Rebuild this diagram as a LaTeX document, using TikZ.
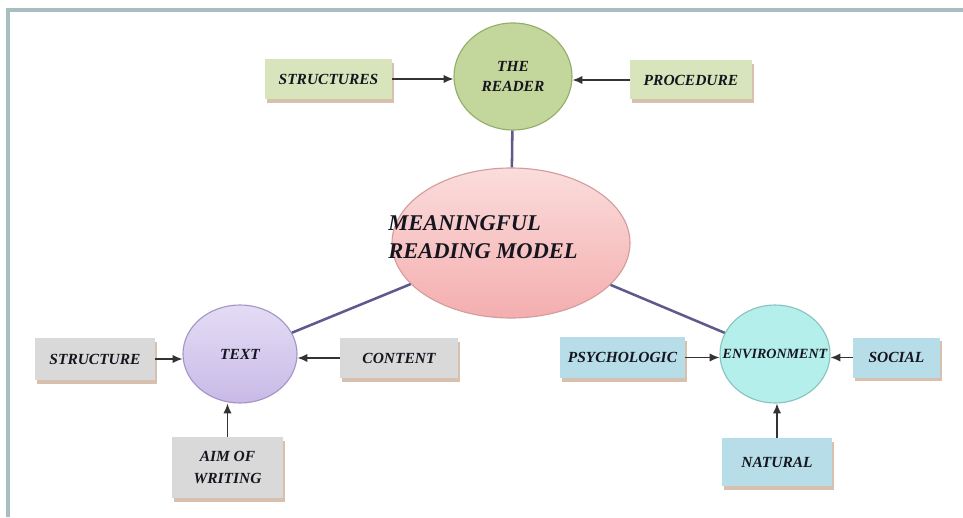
\documentclass[tikz,border=0pt]{standalone}
\usepackage{fontspec}
\setmainfont{Liberation Serif}
\usetikzlibrary{arrows.meta, shapes.geometric, shadows}
\definecolor{framegray}{HTML}{A9BCC0}
\definecolor{readerfill}{HTML}{C3D69B}
\definecolor{readerdraw}{HTML}{93AE68}
\definecolor{greenbox}{HTML}{D8E4BC}
\definecolor{graybox}{HTML}{D9D9D9}
\definecolor{bluebox}{HTML}{B7DEE8}
\definecolor{texttop}{HTML}{E4DCF5}
\definecolor{textbottom}{HTML}{C8BAE6}
\definecolor{textdraw}{HTML}{A495C8}
\definecolor{envfill}{HTML}{B5EFEB}
\definecolor{envdraw}{HTML}{88C4BF}
\definecolor{mrmtop}{HTML}{FBDCDC}
\definecolor{mrmbottom}{HTML}{F4AEAE}
\definecolor{mrmdraw}{HTML}{D59C9C}
\definecolor{linkcolor}{HTML}{5E5A8E}
\definecolor{shadowtan}{HTML}{D8C0AE}
\definecolor{inkcolor}{HTML}{15151F}
\tikzset{every picture/.style={font issue=\bfseries\itshape},
         font issue/.style={execute at begin picture={#1\selectfont}},
         factor/.style={fill=#1, minimum height=1cm, inner sep=2pt, align=center, text=inkcolor,
                        font=\fontsize{11}{15.5}\selectfont\bfseries\itshape,
                        drop shadow={shadow xshift=1.5pt, shadow yshift=-2.5pt, fill=shadowtan, opacity=1}},
         hub/.style={ellipse, inner sep=0pt, align=center, text=inkcolor, line width=0.8pt,
                     font=\fontsize{11}{14}\selectfont\bfseries\itshape},
         feed/.style={-{Latex[length=7pt, width=6pt]}, line width=1.1pt, black!80},
         link/.style={line width=1.8pt, linkcolor}
}
\begin{document}
\begin{tikzpicture}
        \useasboundingbox (0cm, 0cm) rectangle (24.075cm, 12.925cm);
        \fill [white] (0cm, 0cm) rectangle (24.075cm, 12.925cm);
        \draw [framegray, line width=2.2pt] (0.2cm, 0cm) -- (0.2cm, 12.675cm) -- (24.075cm, 12.675cm);

        \node [hub, draw=mrmdraw, top color=mrmtop, bottom color=mrmbottom, minimum width=5.95cm, minimum height=3.75cm] (mrm) at (12.775cm, 6.85cm) {};
        \node [align=left, text=inkcolor, font=\fontsize{16}{20}\selectfont\bfseries\itshape] (mrmlabel) at (12.075cm, 6.99cm) {MEANINGFUL\\READING MODEL};

        \node [hub, draw=readerdraw, fill=readerfill, minimum width=2.95cm, minimum height=2.675cm] (reader) at (12.825cm, 11.0125cm) {THE\\READER};
        \node [factor=greenbox, minimum width=3.175cm] (structures) at (8.2125cm, 10.95cm) {STRUCTURES};
        \node [factor=greenbox, minimum width=3.05cm, minimum height=0.975cm] (procedure) at (17.275cm, 10.925cm) {PROCEDURE};

        \node [hub, draw=textdraw, top color=texttop, bottom color=textbottom, minimum width=2.85cm, minimum height=2.45cm] (text) at (6cm, 4.075cm) {TEXT};
        \node [factor=graybox, minimum width=3cm, minimum height=1.05cm] (structure) at (2.375cm, 3.95cm) {STRUCTURE};
        \node [factor=graybox, minimum width=2.95cm] (content) at (9.975cm, 3.975cm) {CONTENT};
        \node [factor=graybox, minimum width=2.775cm, minimum height=1.525cm] (aim) at (5.6875cm, 1.2375cm) {AIM OF\\WRITING};

        \node [hub, draw=envdraw, fill=envfill, minimum width=2.75cm, minimum height=2.45cm, font=\fontsize{10}{12}\selectfont\bfseries\itshape] (env) at (19.375cm, 4.075cm) {\makebox[0pt]{ENVIRONMENT}};
        \node [factor=bluebox, minimum width=3.125cm, minimum height=1.025cm] (psychologic) at (15.5625cm, 3.9875cm) {PSYCHOLOGIC};
        \node [factor=bluebox, minimum width=2.175cm] (social) at (22.4125cm, 3.9875cm) {SOCIAL};
        \node [factor=bluebox, minimum width=2.75cm, minimum height=1.2cm] (natural) at (19.425cm, 1.375cm) {NATURAL};

        \draw [link] (reader) -- (mrm);
        \draw [link] (mrm) -- (text);
        \draw [link] (mrm) -- (env);

        \draw [feed] (structures.east) -- (structures.east -| reader.west);
        \draw [feed] (procedure.west) -- (procedure.west -| reader.east);
        \draw [feed] (structure.east) -- (structure.east -| text.west);
        \draw [feed] (content.west) -- (content.west -| text.east);
        \draw [feed] (aim.north) -- (aim.north |- text.south);
        \draw [feed] (psychologic.east) -- (psychologic.east -| env.west);
        \draw [feed] (social.west) -- (social.west -| env.east);
        \draw [feed] (natural.north) -- (natural.north |- env.south);
      \end{tikzpicture}
\end{document}
